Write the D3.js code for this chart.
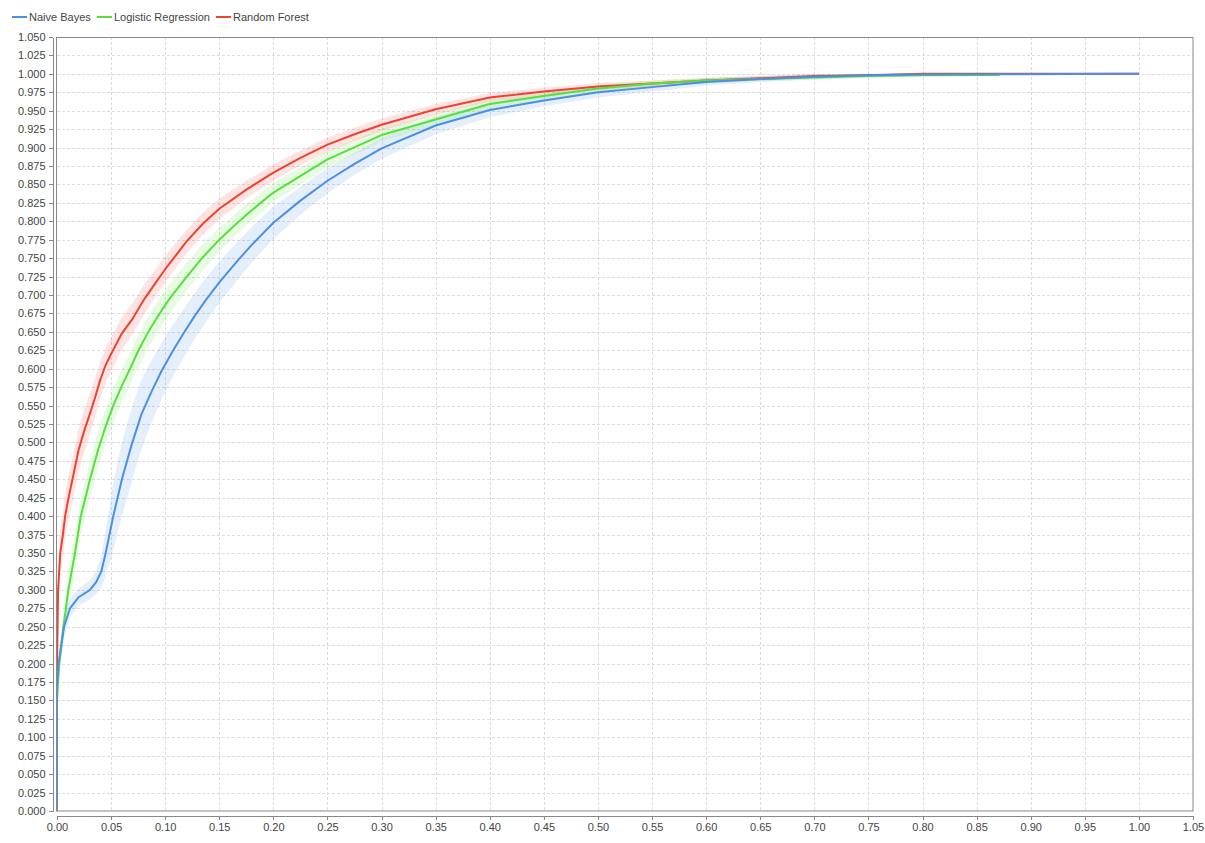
<!DOCTYPE html>
<html>
<head>
<meta charset="utf-8">
<script src="https://cdn.jsdelivr.net/npm/d3@7"></script>
<style>
  body { margin: 0; background: #fff; }
  text { font-family: "Liberation Sans", Arial, sans-serif; font-size: 11px; fill: #444; }
  .axisLine path, .axisLine line { stroke: #888; shape-rendering: crispEdges; }
  .grid line { stroke: #dcdcdc; stroke-dasharray: 3,2; shape-rendering: crispEdges; }
</style>
</head>
<body>
<div id="Roc"></div>
<script>
// series names, colours
const seriesNames = ["Naive Bayes", "Logistic Regression", "Random Forest"];
const seriesColors = ["#4a8fe6", "#55e03b", "#ef4131"];

// tick values
const xTicks = d3.range(0, 21 + 1).map(i => i * 0.05);
const yTicks = d3.range(0, 42 + 1).map(i => i * 0.025);

// Naive Bayes: false positive rate, true positive rate, spread
const nbFpr = [0, 0, 0.0015, 0.0065, 0.012, 0.02, 0.0305, 0.036, 0.041, 0.045, 0.052, 0.06, 0.069, 0.078, 0.088, 0.097, 0.107, 0.117, 0.127, 0.137, 0.15, 0.166, 0.18, 0.2, 0.225, 0.25, 0.275, 0.3, 0.35, 0.4, 0.45, 0.5, 0.55, 0.6, 0.65, 0.7, 0.75, 0.8, 0.87, 1.0];
const nbTpr = [0, 0.17, 0.2, 0.25, 0.275, 0.29, 0.3, 0.31, 0.325, 0.35, 0.4, 0.45, 0.497, 0.538, 0.571, 0.598, 0.624, 0.648, 0.671, 0.692, 0.717, 0.745, 0.768, 0.798, 0.828, 0.855, 0.878, 0.899, 0.93, 0.951, 0.964, 0.975, 0.982, 0.989, 0.993, 0.996, 0.998, 0.999, 0.9995, 1.0];
const nbStd = [0, 0.015, 0.015, 0.014, 0.013, 0.012, 0.013, 0.016, 0.022, 0.032, 0.045, 0.05, 0.05, 0.047, 0.042, 0.038, 0.035, 0.033, 0.031, 0.03, 0.028, 0.026, 0.024, 0.022, 0.019, 0.017, 0.015, 0.014, 0.012, 0.01, 0.008, 0.007, 0.006, 0.005, 0.004, 0.0035, 0.003, 0.002, 0.001, 0];

// Logistic Regression
const lrFpr = [0, 0, 0.002, 0.004, 0.006, 0.0105, 0.0166, 0.022, 0.0305, 0.038, 0.045, 0.052, 0.06, 0.0675, 0.075, 0.084, 0.094, 0.104, 0.12, 0.134, 0.15, 0.166, 0.18, 0.2, 0.25, 0.3, 0.35, 0.4, 0.45, 0.5, 0.55, 0.6, 0.65, 0.7, 0.75, 0.8, 0.871];
const lrTpr = [0, 0.15, 0.2, 0.225, 0.25, 0.3, 0.35, 0.4, 0.45, 0.49, 0.522, 0.55, 0.577, 0.6, 0.624, 0.649, 0.673, 0.695, 0.725, 0.75, 0.775, 0.797, 0.815, 0.839, 0.884, 0.917, 0.938, 0.959, 0.97, 0.98, 0.987, 0.991, 0.993, 0.995, 0.997, 0.998, 0.9985];
const lrStd = [0, 0.02, 0.022, 0.022, 0.022, 0.023, 0.024, 0.025, 0.025, 0.025, 0.024, 0.024, 0.023, 0.022, 0.022, 0.021, 0.021, 0.02, 0.019, 0.018, 0.016, 0.015, 0.014, 0.013, 0.011, 0.009, 0.008, 0.007, 0.006, 0.005, 0.004, 0.0035, 0.003, 0.0025, 0.002, 0.0015, 0.001];

// Random Forest
const rfFpr = [0, 0, 0.001, 0.003, 0.005, 0.0075, 0.01, 0.015, 0.02, 0.025, 0.03, 0.035, 0.04, 0.045, 0.05, 0.06, 0.07, 0.08, 0.09, 0.1, 0.11, 0.12, 0.135, 0.15, 0.175, 0.2, 0.225, 0.25, 0.275, 0.3, 0.35, 0.4, 0.45, 0.5, 0.55, 0.6, 0.65, 0.7, 0.75, 0.8, 0.87, 1.0];
const rfTpr = [0, 0.2, 0.3, 0.35, 0.37, 0.4, 0.42, 0.455, 0.49, 0.515, 0.537, 0.56, 0.585, 0.605, 0.62, 0.648, 0.668, 0.693, 0.714, 0.735, 0.754, 0.773, 0.797, 0.817, 0.843, 0.866, 0.886, 0.904, 0.918, 0.931, 0.952, 0.968, 0.976, 0.983, 0.987, 0.991, 0.994, 0.997, 0.998, 1.0, 1.0, 1.0];
const rfStd = [0, 0.025, 0.028, 0.03, 0.03, 0.03, 0.03, 0.03, 0.03, 0.029, 0.028, 0.026, 0.025, 0.024, 0.023, 0.022, 0.021, 0.02, 0.019, 0.018, 0.017, 0.016, 0.015, 0.014, 0.012, 0.011, 0.01, 0.0095, 0.009, 0.0085, 0.007, 0.006, 0.005, 0.0045, 0.004, 0.0035, 0.003, 0.0025, 0.002, 0.001, 0.0005, 0];

class RocChart {
  constructor(config) {
    this.config = config;
    this.svg = null;
    this.xScale = null;
    this.yScale = null;
    this.series = [];

    this.createSvg();
    this.loadSeries();
    this.createScales();
  }

  createSvg() {
    this.svg = d3.select(this.config.div)
      .append("svg")
      .attr("width", this.config.width)
      .attr("height", this.config.height);
  }

  loadSeries() {
    const fprs = [nbFpr, lrFpr, rfFpr];
    const tprs = [nbTpr, lrTpr, rfTpr];
    const stds = [nbStd, lrStd, rfStd];
    this.series = seriesNames.map((name, i) => ({
      name: name,
      color: seriesColors[i],
      points: fprs[i].map((x, j) => ({ x: x, y: tprs[i][j], s: stds[i][j] }))
    }));
  }

  createScales() {
    const c = this.config;
    this.xScale = d3.scaleLinear().domain([0, 1.05]).range([c.left, c.right]);
    this.yScale = d3.scaleLinear().domain([0, 1.05]).range([c.bottom, c.top]);
  }

  createGrid() {
    const c = this.config;
    const g = this.svg.append("g").attr("class", "grid");
    g.selectAll("line.vx")
      .data(xTicks.slice(1, -1))
      .enter()
      .append("line")
      .attr("x1", d => Math.round(this.xScale(d)) + 0.5)
      .attr("x2", d => Math.round(this.xScale(d)) + 0.5)
      .attr("y1", c.top)
      .attr("y2", c.bottom);
    g.selectAll("line.hy")
      .data(yTicks.slice(1, -1))
      .enter()
      .append("line")
      .attr("y1", d => Math.round(this.yScale(d)) + 0.5)
      .attr("y2", d => Math.round(this.yScale(d)) + 0.5)
      .attr("x1", c.left)
      .attr("x2", c.right);
  }

  createAxis() {
    const c = this.config;
    let xAxis = d3.axisBottom(this.xScale)
      .tickValues(xTicks)
      .tickSize(4)
      .tickSizeOuter(0)
      .tickPadding(4)
      .tickFormat(d3.format(".2f"));

    let yAxis = d3.axisLeft(this.yScale)
      .tickValues(yTicks)
      .tickSize(4)
      .tickSizeOuter(0)
      .tickPadding(3)
      .tickFormat(d3.format(".3f"));

    this.svg.append("g")
      .attr("class", "x axisLine")
      .attr("transform", `translate(0,${c.bottom + 4.5})`)
      .call(xAxis);

    this.svg.append("g")
      .attr("class", "y axisLine")
      .attr("transform", `translate(${c.left - 4.5},0)`)
      .call(yAxis);

    this.svg.selectAll(".axisLine text").style("fill", "#444").style("font-size", "11px");
    this.svg.selectAll(".axisLine .domain").attr("stroke", "#888");
  }

  renderFrame() {
    const c = this.config;
    this.svg.append("rect")
      .attr("x", c.left - 0.5)
      .attr("y", c.top + 0.5)
      .attr("width", c.right - c.left + 0.5)
      .attr("height", c.bottom - c.top - 0.5)
      .attr("fill", "none")
      .attr("stroke", "#888");
  }

  renderBands() {
    const area = d3.area()
      .x(d => this.xScale(d.x))
      .y0(d => this.yScale(Math.max(0, d.y - d.s)))
      .y1(d => this.yScale(Math.min(1, d.y + d.s)));

    this.svg.selectAll("path.band")
      .data(this.series)
      .enter()
      .append("path")
      .attr("class", "band")
      .attr("fill", d => d.color)
      .attr("fill-opacity", 0.14)
      .attr("d", d => area(d.points));
  }

  renderLines() {
    const line = d3.line()
      .x(d => this.xScale(d.x))
      .y(d => this.yScale(d.y));

    // blue drawn last, as in the original
    this.svg.selectAll("path.roc")
      .data(this.series.slice().reverse())
      .enter()
      .append("path")
      .attr("class", "roc")
      .attr("fill", "none")
      .attr("stroke", d => d.color)
      .attr("stroke-width", 2)
      .attr("stroke-linejoin", "round")
      .attr("d", d => line(d.points));
  }

  renderLegend() {
    const itemX = [12, 97, 216];
    const items = this.svg.append("g")
      .selectAll("g")
      .data(this.series)
      .enter()
      .append("g")
      .attr("transform", (d, i) => `translate(${itemX[i]},17)`);

    items.append("line")
      .attr("x1", 0)
      .attr("x2", 15)
      .attr("stroke", d => d.color)
      .attr("stroke-width", 2);

    items.append("text")
      .attr("x", 17)
      .attr("y", 4)
      .text(d => d.name);
  }
}

function main() {
  let c = { div: "#Roc", width: 1205, height: 843, left: 57, right: 1193, top: 37, bottom: 811 };
  let plotter = new RocChart(c);
  plotter.createGrid();
  plotter.renderBands();
  plotter.renderLines();
  plotter.renderFrame();
  plotter.createAxis();
  plotter.renderLegend();
}

main();
</script>
</body>
</html>
